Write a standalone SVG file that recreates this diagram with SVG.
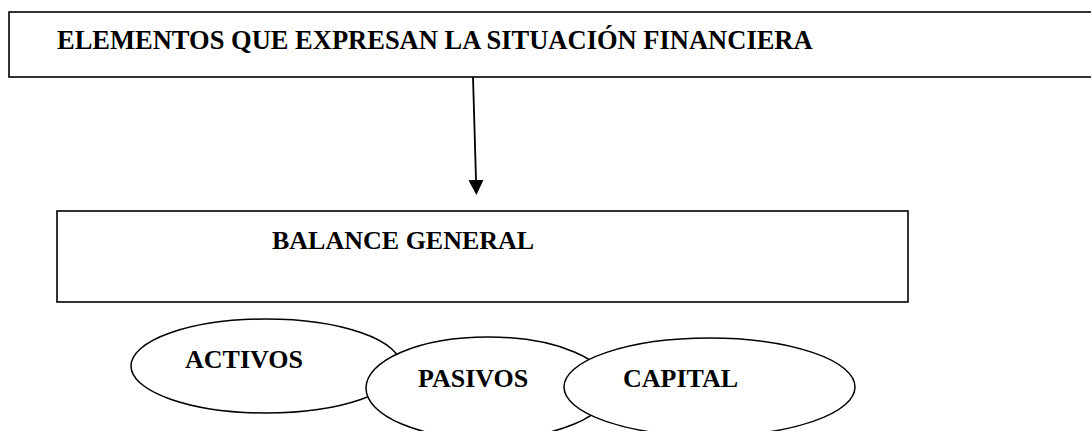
<svg xmlns="http://www.w3.org/2000/svg" width="1091" height="431" viewBox="0 0 1091 431">
  <style>
    .box { fill: #ffffff; stroke: #000000; stroke-width: 1.6; }
    .oval { fill: #ffffff; stroke: #000000; stroke-width: 1.5; }
    .lbl { font-family: "Liberation Serif", "Times New Roman", serif; font-weight: bold; font-size: 26px; fill: #000000; }
    .conn { stroke: #000000; stroke-width: 1.8; fill: none; }
  </style>
  <defs>
    <marker id="arrow" markerUnits="userSpaceOnUse" markerWidth="16" markerHeight="16" refX="0" refY="7.5" orient="auto">
      <path d="M0,0 L15,7.5 L0,15 Z" fill="#000000"/>
    </marker>
  </defs>
  <rect width="1091" height="431" fill="#ffffff"/>

  <g id="node-elementos">
    <rect class="box" x="9" y="12" width="1100" height="65"/>
    <text class="lbl" x="57" y="49" style="font-size:26.5px">ELEMENTOS QUE EXPRESAN LA SITUACIÓN FINANCIERA</text>
  </g>

  <g id="node-balance">
    <rect class="box" x="57" y="211" width="851" height="91"/>
    <text class="lbl" x="272" y="249">BALANCE GENERAL</text>
  </g>

  <g id="node-activos">
    <ellipse class="oval" cx="266" cy="366" rx="135" ry="47"/>
    <text class="lbl" x="185" y="368">ACTIVOS</text>
  </g>

  <g id="node-pasivos">
    <ellipse class="oval" cx="488" cy="388" rx="122" ry="51"/>
    <text class="lbl" x="418" y="387">PASIVOS</text>
  </g>

  <g id="node-capital">
    <ellipse class="oval" cx="709.5" cy="387" rx="145.5" ry="49"/>
    <text class="lbl" x="623" y="387">CAPITAL</text>
  </g>

  <g id="connectors">
    <line class="conn" x1="473" y1="77" x2="476" y2="180" marker-end="url(#arrow)"/>
  </g>
</svg>
